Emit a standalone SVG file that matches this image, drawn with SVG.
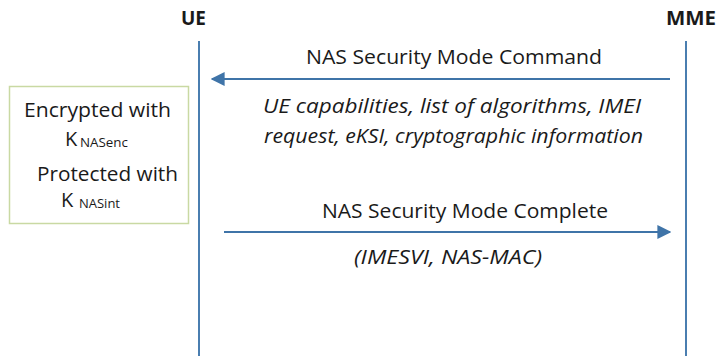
<svg xmlns="http://www.w3.org/2000/svg" width="719" height="356" viewBox="0 0 719 356">
<defs>
<style>
text{font-family:"Open Sans","Liberation Sans",sans-serif;fill:#1a1a1a;}
.hd{font-weight:bold;font-size:20px;}
.lbl{font-size:20px;}
.it{font-size:20px;font-style:italic;}
.box{font-size:20px;}
.sub{font-size:12px;}
.life{stroke:#4a7eb0;stroke-width:2;fill:none;}
.msg{stroke:#3f74a8;stroke-width:2;fill:none;}
</style>
<marker id="ah" viewBox="0 0 10 10" refX="9" refY="5" markerWidth="14" markerHeight="14" markerUnits="userSpaceOnUse" orient="auto">
<path d="M0,0 L10,5 L0,10 z" fill="#3f74a8"/>
</marker>
</defs>
<rect width="719" height="356" fill="#ffffff"/>
<g id="ue">
<text class="hd" x="181" y="25" textLength="25" lengthAdjust="spacingAndGlyphs">UE</text>
<line class="life" x1="199" y1="41" x2="199" y2="356"/>
</g>
<g id="mme">
<text class="hd" x="666" y="25" textLength="50" lengthAdjust="spacingAndGlyphs">MME</text>
<line class="life" x1="686" y1="41" x2="686" y2="356"/>
</g>
<g id="note">
<rect x="9.5" y="86.5" width="179" height="137" fill="#ffffff" stroke="#c9d9a3" stroke-width="1.5"/>
<text class="box" x="24" y="117" textLength="147" lengthAdjust="spacingAndGlyphs">Encrypted with</text>
<text class="box" x="65" y="146">K</text>
<text class="sub" x="80" y="147" textLength="48" lengthAdjust="spacingAndGlyphs">NASenc</text>
<text class="box" x="37" y="181" textLength="141" lengthAdjust="spacingAndGlyphs">Protected with</text>
<text class="box" x="61" y="207">K</text>
<text class="sub" x="79" y="208" textLength="41" lengthAdjust="spacingAndGlyphs">NASint</text>
</g>
<g id="connectors">
<line class="msg" x1="670" y1="79" x2="212" y2="79" marker-end="url(#ah)"/>
<line class="msg" x1="224" y1="232" x2="670" y2="232" marker-end="url(#ah)"/>
</g>
<g id="labels">
<text class="lbl" x="306" y="64" textLength="296" lengthAdjust="spacingAndGlyphs">NAS Security Mode Command</text>
<text class="it" x="263" y="113" textLength="378" lengthAdjust="spacingAndGlyphs">UE capabilities, list of algorithms, IMEI</text>
<text class="it" x="264" y="143" textLength="379" lengthAdjust="spacingAndGlyphs">request, eKSI, cryptographic information</text>
<text class="lbl" x="322" y="218" textLength="286" lengthAdjust="spacingAndGlyphs">NAS Security Mode Complete</text>
<text class="it" x="354" y="264" textLength="188" lengthAdjust="spacingAndGlyphs">(IMESVI, NAS-MAC)</text>
</g>
</svg>
